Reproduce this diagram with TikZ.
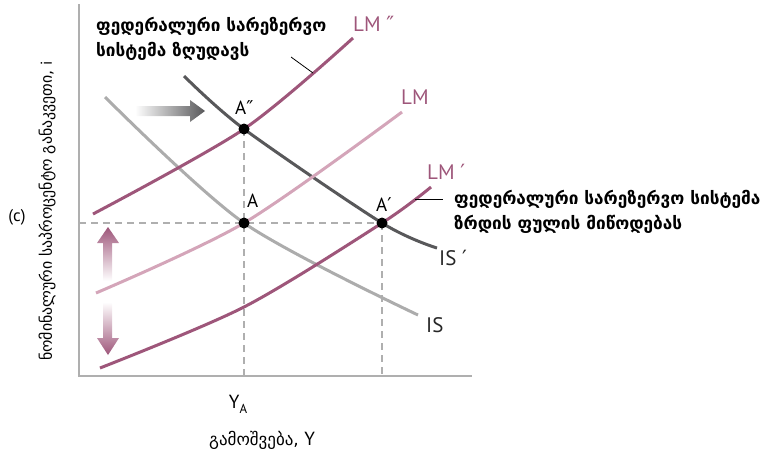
\documentclass[tikz,border=0pt]{standalone}
\usepackage{fontspec}
\setmainfont{PT Sans}
\newfontfamily\geo{DejaVu Sans}
\usetikzlibrary{positioning}
\definecolor{lmdark}{RGB}{158,86,122}
\definecolor{lmlight}{RGB}{212,165,185}
\definecolor{isgray}{RGB}{172,172,172}
\definecolor{isdark}{RGB}{88,88,90}
\definecolor{axisgray}{RGB}{175,175,175}

\begin{document}
\begin{tikzpicture}[x=1pt, y=-1pt,
    curve/.style={line width=3pt},
    guide/.style={axisgray, line width=1.3pt, dash pattern=on 7pt off 5pt},
    pt/.style={circle, fill=black, inner sep=0pt, minimum size=11pt},
    lbl/.style={inner sep=0pt, anchor=west, font=\fontsize{21}{24}\selectfont},
    note/.style={inner sep=0pt, anchor=west, align=left, font=\geo\bfseries\fontsize{17.2}{25}\selectfont}]
    \useasboundingbox (0,0) rectangle (770,451);
    % axes
    \draw[axisgray, line width=1.5pt] (79,4) -- (79,376) -- (472,376);
    % equilibrium points
    \coordinate (A2) at (244,129);
    \coordinate (A0) at (244,223);
    \coordinate (A1) at (382,223);
    \draw[guide] (79,223) -- (A1);
    \draw[guide] (A2) -- (244,376);
    \draw[guide] (A1) -- (382,376);
    % IS curves
    \draw[curve, isgray] plot[smooth] coordinates {(105,97) (A0) (418,315)};
    \draw[curve, isdark] plot[smooth] coordinates {(184,76) (A2) (A1) (437,248)};
    % LM curves
    \draw[curve, lmlight] plot[smooth] coordinates {(96,293) (A0) (402,112)};
    \draw[curve, lmdark] plot[smooth] coordinates {(93,214) (A2) (353,38)};
    \draw[curve, lmdark] plot[smooth] coordinates {(100,368) (244,307) (A1) (431,187)};
    % shift arrows
    \shade[left color=white, right color=isdark]
        (135,106) -- (190,106) -- (190,100) -- (205,111) -- (190,122) -- (190,116) -- (135,116) -- cycle;
    \shade[top color=lmdark, bottom color=white]
        (108,227) -- (119,243) -- (112,243) -- (112,281) -- (103,281) -- (103,243) -- (97,243) -- cycle;
    \shade[bottom color=lmdark, top color=white]
        (108,355) -- (119,338) -- (112,338) -- (112,302) -- (103,302) -- (103,338) -- (97,338) -- cycle;
    % dots
    \node[pt] (pA2) at (A2) {};
    \node[pt] (pA0) at (A0) {};
    \node[pt] (pA1) at (A1) {};
    % curve labels
    \node[lbl, text=lmdark] (lLM2) at (353,24) {LM {\geo ″}};
    \node[lbl, text=lmdark] (lLM0) at (401,97) {LM};
    \node[lbl, text=lmdark] (lLM1) at (427,172) {LM {\geo ′}};
    \node[lbl, text=black!85] (lIS1) at (439,258) {IS {\geo ′}};
    \node[lbl, text=black!85] (lIS0) at (426,325) {IS};
    \node[lbl, font=\fontsize{19}{22}\selectfont] (lA2) at (235,108) {A{\geo ″}};
    \node[lbl, font=\fontsize{19}{22}\selectfont] (lA0) at (247,201) {A};
    \node[lbl, font=\fontsize{19}{22}\selectfont] (lA1) at (376,205) {A{\geo ′}};
    % notes
    \node[note] (fedup) at (96,39) {ფედერალური სარეზერვო\\სისტემა ზღუდავს};
    \node[note] (feddown) at (454,212) {ფედერალური სარეზერვო სისტემა\\ზრდის ფულის მიწოდებას};
    \coordinate (tip2) at (313,73);
    \coordinate (tip1) at (415,199);
    \draw[black, line width=0.8pt] (291,57) -- (tip2);
    \draw[black, line width=0.8pt] (tip1) -- (443,199);
    % axis labels
    \node[font=\fontsize{17}{20}\selectfont] (panel) at (17,217) {(c)};
    \node[rotate=90, font=\geo\fontsize{15.8}{18}\selectfont] (ylab) at (47,211) {ნომინალური საპროცენტო განაკვეთი, {\rmfamily i}};
    \node[font=\fontsize{19}{22}\selectfont] (ya) at (238,404) {Y\raisebox{-5pt}{\fontsize{13}{15}\selectfont A}};
    \node[font=\geo\fontsize{17}{20}\selectfont] (xlab) at (262,440) {გამოშვება, {\rmfamily\fontsize{19}{20}\selectfont Y}};
\end{tikzpicture}
\end{document}
